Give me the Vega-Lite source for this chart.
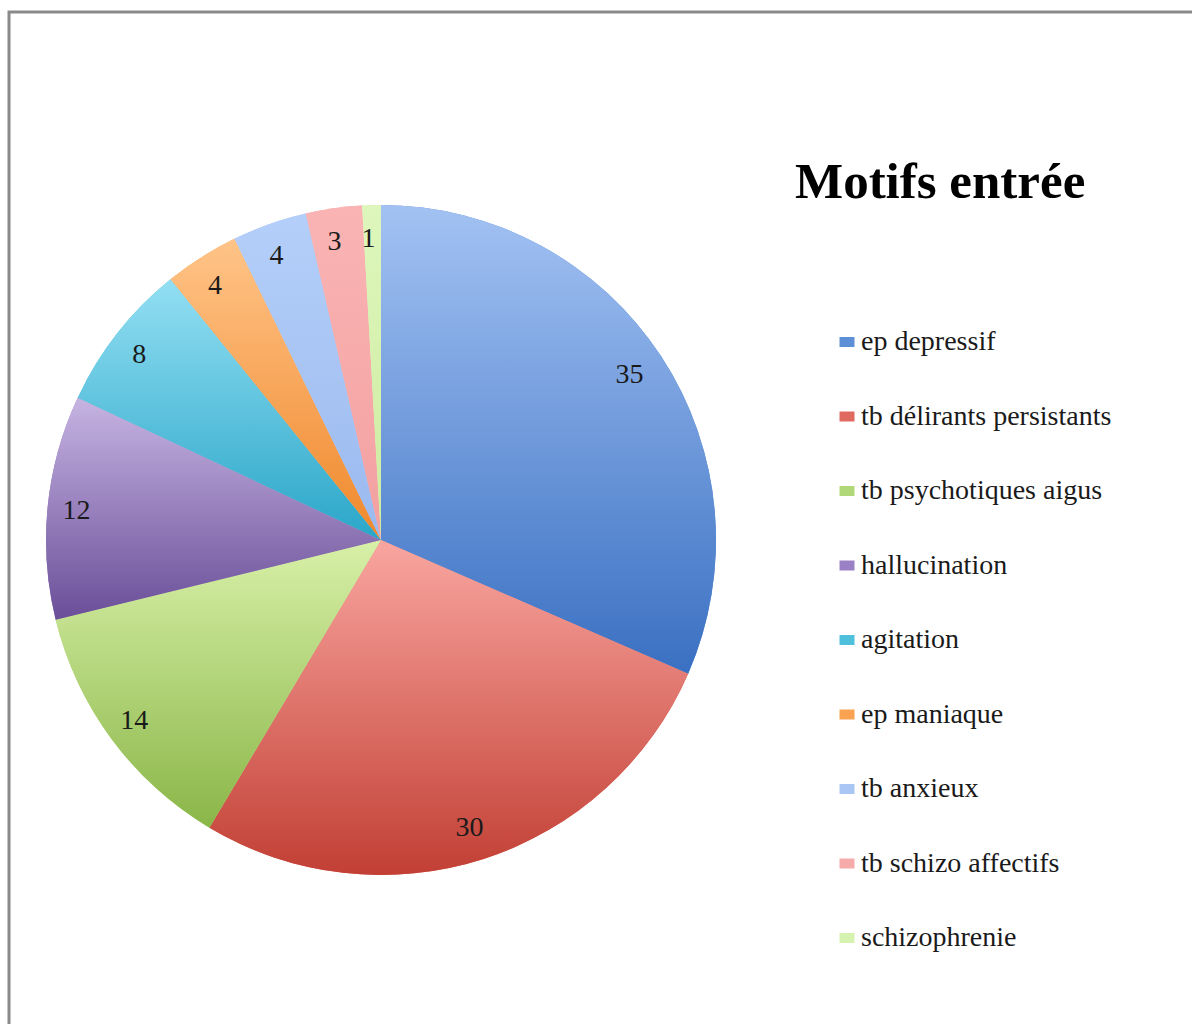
{
  "$schema": "https://vega.github.io/schema/vega-lite/v6.json",
  "width": 1187,
  "height": 1016,
  "autosize": {"type": "none"},
  "padding": {"left": 9, "top": 12, "right": -4, "bottom": -4},
  "background": "white",
  "view": {"stroke": "#8a8a8a", "strokeWidth": 3},
  "config": {"view": {"stroke": "#8a8a8a", "strokeWidth": 3}},
  "data": {
    "values": [
      {"motif": "ep depressif", "count": 35, "rank": 1},
      {"motif": "tb délirants persistants", "count": 30, "rank": 2},
      {"motif": "tb psychotiques aigus", "count": 14, "rank": 3},
      {"motif": "hallucination", "count": 12, "rank": 4},
      {"motif": "agitation", "count": 8, "rank": 5},
      {"motif": "ep maniaque", "count": 4, "rank": 6},
      {"motif": "tb anxieux", "count": 4, "rank": 7},
      {"motif": "tb schizo affectifs", "count": 3, "rank": 8},
      {"motif": "schizophrenie", "count": 1, "rank": 9}
    ]
  },
  "encoding": {
    "theta": {"field": "count", "type": "quantitative", "stack": true},
    "order": {"field": "rank", "type": "quantitative"},
    "detail": {"field": "motif", "type": "nominal"}
  },
  "layer": [
    {
      "mark": {"type": "arc", "x": 372, "y": 528, "radius": 335},
      "encoding": {
        "color": {
          "field": "motif",
          "type": "nominal",
          "scale": {
            "domain": ["ep depressif", "tb délirants persistants", "tb psychotiques aigus", "hallucination", "agitation", "ep maniaque", "tb anxieux", "tb schizo affectifs", "schizophrenie"],
            "range": ["#5d8fd6", "#e06a60", "#b0d878", "#9a80c4", "#4fc0dc", "#f9a251", "#a9c6f5", "#f6aaaa", "#d6f2b0"]
          },
          "legend": {
            "title": "Motifs entrée",
            "orient": "none",
            "legendX": 786,
            "legendY": 146,
            "padding": 0,
            "titleFont": "Liberation Serif",
            "titleFontSize": 51,
            "titleFontWeight": "bold",
            "titleColor": "#000000",
            "titleLimit": 600,
            "titlePadding": 119,
            "labelFont": "Liberation Serif",
            "labelFontSize": 28,
            "labelColor": "#1a1a1a",
            "labelLimit": 400,
            "symbolType": "M-0.75,-0.5L0.75,-0.5L0.75,0.5L-0.75,0.5Z",
            "symbolSize": 400,
            "symbolStrokeWidth": 0,
            "symbolOffset": 38,
            "labelOffset": 0,
            "rowPadding": 46.5
          }
        }
      }
    },
    {
      "mark": {"type": "arc", "x": 372, "y": 528, "radius": 335},
      "encoding": {
        "fill": {
          "condition": [
            {"test": "datum.motif === 'ep depressif'", "value": {"gradient": "linear", "x1": 0, "y1": 0, "x2": 0, "y2": 1, "stops": [{"offset": 0, "color": "#a3c2f3"}, {"offset": 1, "color": "#3a70c2"}]}},
            {"test": "datum.motif === 'tb délirants persistants'", "value": {"gradient": "linear", "x1": 0, "y1": 0, "x2": 0, "y2": 1, "stops": [{"offset": 0, "color": "#f9a6a0"}, {"offset": 1, "color": "#c23f34"}]}},
            {"test": "datum.motif === 'tb psychotiques aigus'", "value": {"gradient": "linear", "x1": 0, "y1": 0, "x2": 0, "y2": 1, "stops": [{"offset": 0, "color": "#d8f0a8"}, {"offset": 1, "color": "#8ab648"}]}},
            {"test": "datum.motif === 'hallucination'", "value": {"gradient": "linear", "x1": 0, "y1": 0, "x2": 0, "y2": 1, "stops": [{"offset": 0, "color": "#c6b4e2"}, {"offset": 1, "color": "#6a4e98"}]}},
            {"test": "datum.motif === 'agitation'", "value": {"gradient": "linear", "x1": 0, "y1": 0, "x2": 0, "y2": 1, "stops": [{"offset": 0, "color": "#93dff3"}, {"offset": 1, "color": "#2aa6c8"}]}},
            {"test": "datum.motif === 'ep maniaque'", "value": {"gradient": "linear", "x1": 0, "y1": 0, "x2": 0, "y2": 1, "stops": [{"offset": 0, "color": "#ffc488"}, {"offset": 1, "color": "#f0882c"}]}},
            {"test": "datum.motif === 'tb anxieux'", "value": {"gradient": "linear", "x1": 0, "y1": 0, "x2": 0, "y2": 1, "stops": [{"offset": 0, "color": "#b4cff9"}, {"offset": 1, "color": "#9ab9ee"}]}},
            {"test": "datum.motif === 'tb schizo affectifs'", "value": {"gradient": "linear", "x1": 0, "y1": 0, "x2": 0, "y2": 1, "stops": [{"offset": 0, "color": "#fab4b4"}, {"offset": 1, "color": "#f3a0a0"}]}}
          ],
          "value": {"gradient": "linear", "x1": 0, "y1": 0, "x2": 0, "y2": 1, "stops": [{"offset": 0, "color": "#def6bc"}, {"offset": 1, "color": "#cdeca0"}]}
        }
      }
    },
    {
      "mark": {"type": "text", "x": 368, "y": 529, "radius": 302, "font": "Liberation Serif", "fontSize": 28, "color": "#1a1a1a"},
      "encoding": {"text": {"field": "count", "type": "quantitative"}}
    }
  ]
}
